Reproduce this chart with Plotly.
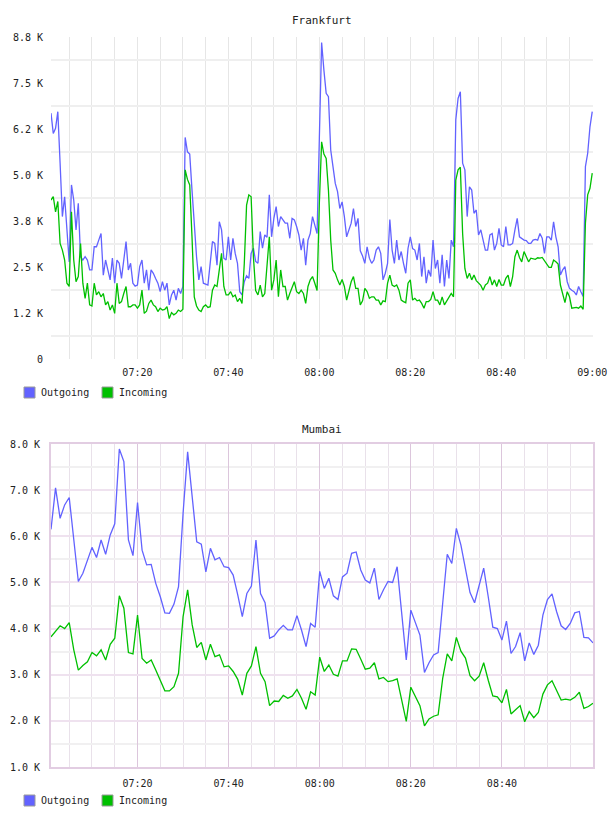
import pandas as pd
import plotly.graph_objects as go

# ---------------- data (values in K) ----------------
fra_outgoing = [
    6.68, 6.13, 6.27, 6.72, 5.32, 3.87, 4.41, 3.51, 2.64, 4.73,
    4.32, 3.51, 4.23, 2.78, 2.69, 2.78, 2.69, 2.42, 2.42, 3.05,
    3.05, 3.23, 3.41, 2.28, 2.69, 2.42, 2.15, 2.74, 2.06, 2.69,
    2.60, 2.19, 2.69, 3.19, 2.42, 2.60, 2.06, 1.98, 2.01, 2.51,
    2.69, 2.06, 2.42, 1.87, 2.42, 2.33, 2.19, 2.06, 1.83, 2.10,
    1.87, 2.06, 1.47, 1.74, 1.87, 1.60, 1.92, 1.78, 1.97, 6.02,
    5.63, 5.57, 4.59, 3.51, 2.78, 2.15, 2.51, 2.06, 2.04, 2.01,
    2.60, 3.19, 3.14, 2.55, 3.73, 3.51, 2.74, 2.69, 3.32, 2.69,
    3.28,
    2.87, 2.60, 1.83, 1.74, 2.10, 2.26, 2.19, 2.87, 3.01, 2.65,
    2.60, 3.46, 3.01, 3.37, 3.31, 4.46, 3.32, 3.82, 4.14, 3.60,
    3.87, 3.78, 3.69, 3.69, 3.28, 3.82, 3.78, 3.60, 3.37, 2.96,
    3.28, 2.55, 3.23, 3.41, 3.87, 3.64, 3.41, 6.00, 8.60, 7.85,
    7.22, 7.13, 5.68, 5.23, 4.77, 4.55, 4.09, 4.27, 3.87, 3.32,
    3.49, 3.69, 4.09, 3.60, 3.82, 2.94, 2.80, 2.60, 3.05, 2.74,
    2.60, 2.69, 2.96, 3.05, 2.87, 2.15, 2.33, 2.60, 3.79, 2.96,
    2.60, 3.23, 2.69, 2.92, 2.60, 2.33, 3.01, 3.32, 3.00,
    2.96, 2.69, 3.14, 2.24, 2.78, 2.06, 2.42, 2.24, 3.23, 2.46,
    2.69, 2.06, 2.83, 1.97, 2.69, 2.19, 3.23, 3.05, 6.50, 7.08,
    7.26, 5.32, 5.14, 3.87, 4.68, 4.59, 3.96, 4.05, 3.37, 3.51,
    3.23, 2.96, 2.96, 3.37, 3.41, 2.96, 3.14, 3.55, 3.10, 3.05,
    3.60, 3.10, 3.10, 3.14, 3.51, 3.82, 3.32, 3.28, 3.23, 3.22,
    3.14, 3.14, 3.23, 3.25, 3.23, 3.41, 3.28, 2.87, 3.32, 3.32,
    3.23, 3.73, 3.32, 3.05, 2.28, 2.42, 2.51, 2.10, 1.92, 1.87,
    1.83, 1.74, 1.97, 1.83, 1.70, 5.23, 5.59, 6.31, 6.72,
]
fra_incoming = [
    4.32, 4.41, 4.00, 4.28, 3.14, 2.96, 2.69, 2.06, 1.97, 4.00,
    2.69, 2.10, 2.24, 3.14, 2.06, 1.65, 2.06, 1.47, 1.44, 2.06,
    1.74, 1.83, 1.69, 1.78, 1.47, 1.56, 1.33, 1.47, 1.24, 2.06,
    1.51, 1.56, 1.78, 1.97, 1.42, 1.42, 1.47, 1.47, 1.38, 1.47,
    1.87, 1.24, 1.30, 1.51, 1.60, 1.47, 1.42, 1.29, 1.38, 1.33,
    1.35, 1.42, 1.10, 1.26, 1.20, 1.24, 1.33, 1.29, 1.35, 5.14,
    4.88, 4.73, 3.32, 1.69, 1.44, 1.33, 1.29, 1.42, 1.47, 1.40,
    1.42, 1.87, 2.01, 1.97, 2.42, 2.87, 1.97, 1.74, 1.74, 1.83,
    1.69,
    1.74, 1.56, 1.65, 1.51, 2.60, 4.18, 4.46, 4.41, 2.78, 1.86,
    1.74, 2.01, 1.69, 1.78, 2.60, 3.32, 1.87, 2.15, 2.69, 1.69,
    2.42, 1.97, 1.97, 1.60, 1.78, 1.97, 2.10, 1.83, 1.78, 1.87,
    1.78, 1.51, 1.97, 2.15, 2.24, 2.06, 1.86, 4.23, 5.90, 5.57,
    5.45, 4.59, 3.23, 2.42, 2.33, 2.15, 2.01, 2.16, 1.97, 1.60,
    1.87, 2.10, 2.24, 1.92, 1.92, 1.47, 1.58, 1.92, 1.83, 1.65,
    1.69, 1.69, 1.60, 1.60, 1.47, 1.58, 1.56, 2.06, 2.28, 2.01,
    1.97, 2.01, 1.87, 1.60, 1.56, 1.53, 2.06, 2.15, 1.60,
    1.65, 1.58, 1.60, 1.51, 1.38, 1.56, 1.56, 1.62, 1.83, 1.60,
    1.60, 1.47, 1.69, 1.47, 1.58, 1.69, 1.78, 1.69, 4.86, 5.14,
    5.21, 3.41, 2.46, 2.19, 2.33, 2.15, 2.28, 2.13, 2.06, 2.00,
    1.87, 2.01, 2.06, 2.24, 2.01, 2.15, 1.97, 2.16, 2.01, 2.01,
    2.19, 2.28, 1.97, 2.24, 2.78, 2.96, 2.76, 2.64, 2.92, 2.78,
    2.64, 2.74, 2.73, 2.71, 2.75, 2.74, 2.76, 2.67, 2.60, 2.49,
    2.49, 2.69, 2.64, 2.58, 2.01, 1.74, 1.53, 1.83, 1.69, 1.38,
    1.40, 1.40, 1.38, 1.44, 1.35, 3.69, 4.46, 4.64, 5.05,
]
mum_outgoing = [
    6.15, 7.05, 6.39, 6.68, 6.84, 5.92, 5.02, 5.20, 5.49, 5.76,
    5.54, 5.92, 5.61, 6.03, 6.27, 7.89, 7.62, 5.92, 5.58, 6.73,
    5.70, 5.38, 5.39, 4.98, 4.69, 4.34, 4.33, 4.53, 4.91, 6.50,
    7.83, 6.79, 5.88, 5.83, 5.23, 5.74, 5.49, 5.54, 5.34, 5.32,
    5.16, 4.73, 4.26, 4.76, 4.92, 5.92, 4.76, 4.56, 3.79, 3.84,
    3.97, 4.07, 3.97, 3.97, 4.28, 3.97, 3.61, 4.11, 4.03, 5.24,
    4.87, 5.09, 4.71, 4.63, 5.12, 5.20, 5.63, 5.66, 5.27, 5.05,
    4.99, 5.31, 4.63, 4.84, 5.02, 5.00, 5.34, 4.33, 3.32, 4.40,
    4.15, 3.86, 3.05, 3.26, 3.43, 3.48, 4.55, 5.61, 5.41, 6.17,
    5.81, 5.31, 4.78, 4.56, 4.94, 5.31, 4.69, 4.03, 4.00, 3.75,
    4.16, 3.46, 3.61, 3.91, 3.30, 3.69, 3.44, 3.64, 4.29, 4.63,
    4.75, 4.37, 4.06, 3.98, 4.11, 4.34, 4.37, 3.81, 3.80, 3.69,
]
mum_incoming = [
    3.82, 3.95, 4.06, 4.00, 4.13, 3.54, 3.10, 3.20, 3.28, 3.48,
    3.41, 3.54, 3.32, 3.66, 3.79, 4.71, 4.44, 3.48, 3.45, 4.29,
    3.35, 3.25, 3.32, 3.10, 2.87, 2.65, 2.65, 2.74, 3.03, 4.26,
    4.84, 4.08, 3.59, 3.70, 3.32, 3.66, 3.39, 3.43, 3.17, 3.19,
    3.07, 2.90, 2.56, 3.03, 3.19, 3.61, 3.03, 2.85, 2.33, 2.43,
    2.42, 2.55, 2.49, 2.54, 2.68, 2.49, 2.25, 2.63, 2.56, 3.38,
    3.07, 3.21, 3.01, 2.97, 3.30, 3.30, 3.56, 3.55, 3.34, 3.12,
    3.14, 3.26, 2.91, 2.94, 2.85, 2.87, 2.91, 2.45, 1.99, 2.73,
    2.52, 2.33, 1.89, 2.04, 2.10, 2.13, 2.92, 3.45, 3.30, 3.81,
    3.51, 3.36, 2.98, 2.87, 2.97, 3.26, 2.88, 2.54, 2.52, 2.39,
    2.68, 2.15, 2.24, 2.33, 1.98, 2.20, 2.07, 2.18, 2.58, 2.78,
    2.87, 2.65, 2.45, 2.47, 2.45, 2.51, 2.62, 2.27, 2.31, 2.38,
]
fra_start, fra_step = "2024-05-14 07:01:00", "30s"
mum_start, mum_step = "2024-05-14 07:01:00", "1min"
fra_yticks = [0, 1250, 2500, 3750, 5000, 6250, 7500, 8750]
fra_yticktext = ["0", "1.2 K", "2.5 K", "3.8 K", "5.0 K", "6.2 K", "7.5 K", "8.8 K"]
mum_yticks = [1000, 2000, 3000, 4000, 5000, 6000, 7000, 8000]
mum_yticktext = ["1.0 K", "2.0 K", "3.0 K", "4.0 K", "5.0 K", "6.0 K", "7.0 K", "8.0 K"]
series_names = ["Outgoing", "Incoming"]

# ---------------- styling ----------------
BLUE = "#6262ff"
GREEN = "#00c000"
COLORS = [BLUE, GREEN]
FONT = "DejaVu Sans Mono"
TXT = "#222222"
fra_t = pd.date_range(fra_start, periods=len(fra_outgoing), freq=fra_step)
mum_t = pd.date_range(mum_start, periods=len(mum_outgoing), freq=mum_step)

fig = go.Figure()
for t, series, xa, ya in ((fra_t, (fra_outgoing, fra_incoming), "x", "y"),
                          (mum_t, (mum_outgoing, mum_incoming), "x2", "y2")):
    for vals, col, name in zip(series, COLORS, series_names):
        fig.add_trace(go.Scatter(x=t, y=[v * 1000 for v in vals], mode="lines", name=name,
                                 line=dict(color=col, width=1.3), showlegend=False,
                                 xaxis=xa, yaxis=ya, hoverinfo="skip"))
# label-only overlay axis for the Frankfurt chart (labels sit between grid lines)
fig.add_trace(go.Scatter(x=[fra_t[0]], y=[None], mode="lines", showlegend=False,
                         xaxis="x", yaxis="y3", hoverinfo="skip"))

H, W = 816, 608
L, R = 51, 593
top_px, bot_px = 37, 767
span = bot_px - top_px


def fy(py):
    return (bot_px - py) / span


def fx(px):
    return (px - L) / (R - L)


tickfont = dict(family=FONT, size=10, color=TXT)
FIVE = 5 * 60 * 1000
TWENTY = 20 * 60 * 1000
T0 = "2024-05-14 07:00:00"

shapes, annotations = [], []
for ly in (392, 800):
    for k, (name, col) in enumerate(zip(series_names, COLORS)):
        x0 = 24 + 78 * k
        shapes.append(dict(type="rect", xref="paper", yref="paper",
                           x0=fx(x0), x1=fx(x0 + 11), y0=fy(ly - 5), y1=fy(ly + 6),
                           fillcolor=col, line=dict(color="#9a9a9a", width=1)))
        annotations.append(dict(text=name, x=fx(x0 + 15), y=fy(ly + 0.5), xref="paper",
                                yref="paper", xanchor="left", yanchor="middle",
                                showarrow=False, font=dict(family=FONT, size=10, color=TXT)))
annotations += [
    dict(text="Frankfurt", x=0.5, y=fy(20), xref="paper", yref="paper", yanchor="middle",
         showarrow=False, font=dict(family=FONT, size=11, color=TXT)),
    dict(text="Mumbai", x=0.5, y=fy(429), xref="paper", yref="paper", yanchor="middle",
         showarrow=False, font=dict(family=FONT, size=11, color=TXT)),
]

fig.update_layout(
    width=W, height=H,
    margin=dict(l=L, r=W - R, t=top_px, b=H - bot_px, pad=0, autoexpand=False),
    paper_bgcolor="white", plot_bgcolor="white",
    font=dict(family=FONT, size=10, color=TXT),
    showlegend=False,
    xaxis=dict(domain=[0, 1], anchor="y", automargin=False,
               range=[fra_t[0], fra_t[-1] + pd.Timedelta(seconds=10)],
               tickformat="%H:%M", tick0=T0, dtick=TWENTY,
               showgrid=True, gridcolor="#e6e6e6", gridwidth=1,
               minor=dict(dtick=FIVE, tick0=T0, showgrid=True,
                          gridcolor="#e6e6e6", gridwidth=1, ticklen=0),
               showline=False, zeroline=False, ticks="", ticklabelstandoff=6,
               tickfont=tickfont),
    yaxis=dict(domain=[fy(359), 1], anchor="x", range=[0, 8750], automargin=False,
               tickmode="linear", tick0=625, dtick=1250, showticklabels=False,
               showgrid=True, gridcolor="#efefef", gridwidth=2,
               zeroline=False, showline=False, ticks=""),
    yaxis3=dict(overlaying="y", anchor="x", side="left", range=[0, 8750], automargin=False,
                tickvals=fra_yticks, ticktext=fra_yticktext,
                showgrid=False, zeroline=False, showline=False, ticks="",
                ticklabelstandoff=7, tickfont=tickfont),
    xaxis2=dict(domain=[0, 1], anchor="y2", range=[mum_t[0], mum_t[-1]], automargin=False,
                tickformat="%H:%M", tick0=T0, dtick=TWENTY,
                showgrid=True, gridcolor="#dcc6dc", gridwidth=1,
                minor=dict(dtick=FIVE, tick0=T0, showgrid=True,
                           gridcolor="#e9e1ea", gridwidth=1, ticklen=0),
                showline=True, linecolor="#e2cde2", linewidth=2, mirror=True,
                zeroline=False, ticks="", ticklabelstandoff=6, tickfont=tickfont),
    yaxis2=dict(domain=[0, fy(444)], anchor="x2", range=[1000, 8000], automargin=False,
                tickvals=mum_yticks, ticktext=mum_yticktext,
                showgrid=True, gridcolor="#efe2ef", gridwidth=2,
                minor=dict(tickmode="linear", tick0=1500, dtick=1000, showgrid=True,
                           gridcolor="#f1f0f1", gridwidth=2, ticklen=0),
                showline=True, linecolor="#e2cde2", linewidth=2, mirror=True,
                zeroline=False, ticks="", ticklabelstandoff=7, tickfont=tickfont),
    shapes=shapes,
    annotations=annotations,
)

fig.write_html("out.html")
